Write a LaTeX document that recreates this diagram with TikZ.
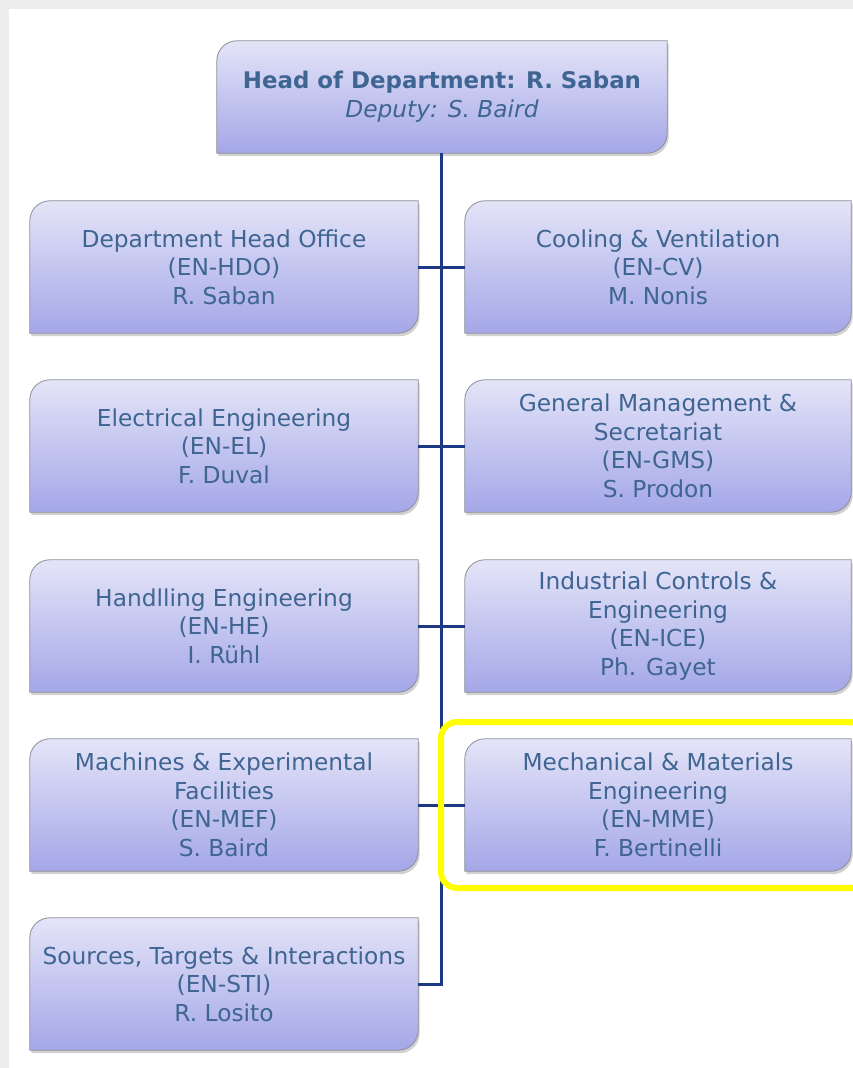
\documentclass[tikz,border=0pt]{standalone}
\usepackage{fontspec}
\setmainfont{DejaVu Sans}
\usetikzlibrary{backgrounds,calc}
\definecolor{boxtop}{HTML}{E4E4F8}
\definecolor{boxbot}{HTML}{A4A7E7}
\definecolor{boxline}{HTML}{8E8E9A}
\definecolor{txt}{HTML}{3F6592}
\definecolor{conn}{HTML}{1B3985}
\definecolor{hilite}{HTML}{FFFF00}
\newcommand\orgpath[3]{([xshift=#2,yshift=#3]#1.south west) -- ([xshift=#2,yshift=#3-20pt]#1.north west) arc[start angle=180,end angle=90,radius=20pt] -- ([xshift=#2,yshift=#3]#1.north east) -- ([xshift=#2,yshift=#3+20pt]#1.south east) arc[start angle=0,end angle=-90,radius=20pt] -- cycle}
\newcommand\orgbg[1]{%
  \begin{pgfonlayer}{background}
    \fill[black, opacity=0.18] \orgpath{#1}{1.5pt}{-3pt};
    \shade[top color=boxtop, bottom color=boxbot, draw=boxline, line width=0.8pt] \orgpath{#1}{0pt}{0pt};
  \end{pgfonlayer}}
\tikzset{
  orgbox/.style={rectangle, inner sep=0pt, align=center, text=txt,
    font=\fontsize{23.3}{28.6}\selectfont},
  conn/.style={draw=conn, line width=3pt},
}
\begin{document}
\begin{tikzpicture}[x=1pt,y=-1pt]
\useasboundingbox (0,0) rectangle (853,1068);
\begin{pgfonlayer}{background}
\fill[black!7] (0,0) rectangle (853,1068);
\fill[white] (9,9) rectangle (853,1068);
\end{pgfonlayer}
% nodes
\node[orgbox, minimum width=450pt, minimum height=112pt] (top) at (442,97)
  {{\fontsize{22.9}{28.6}\selectfont\textbf{Head of Department: R. Saban}}\\\textit{Deputy: S. Baird}};
\node[orgbox, minimum width=388pt, minimum height=132pt] (hdo) at (224,267)
  {Department Head Office\\(EN-HDO)\\R. Saban};
\node[orgbox, minimum width=388pt, minimum height=132pt] (el) at (224,446)
  {Electrical Engineering\\(EN-EL)\\F. Duval};
\node[orgbox, minimum width=388pt, minimum height=132pt] (he) at (224,626)
  {Handlling Engineering\\(EN-HE)\\I. Rühl};
\node[orgbox, minimum width=388pt, minimum height=132pt] (mef) at (224,805)
  {Machines \& Experimental\\Facilities\\(EN-MEF)\\S. Baird};
\node[orgbox, minimum width=388pt, minimum height=132pt] (sti) at (224,984)
  {Sources, Targets \& Interactions\\(EN-STI)\\R. Losito};
\node[orgbox, minimum width=386pt, minimum height=132pt] (cv) at (658,267)
  {Cooling \& Ventilation\\(EN-CV)\\M. Nonis};
\node[orgbox, minimum width=386pt, minimum height=132pt] (gms) at (658,446)
  {General Management \&\\Secretariat\\(EN-GMS)\\S. Prodon};
\node[orgbox, minimum width=386pt, minimum height=132pt] (ice) at (658,626)
  {Industrial Controls \&\\Engineering\\(EN-ICE)\\Ph. Gayet};
\node[orgbox, minimum width=386pt, minimum height=132pt] (mme) at (658,805)
  {Mechanical \& Materials\\Engineering\\(EN-MME)\\F. Bertinelli};
\orgbg{top}\orgbg{hdo}\orgbg{el}\orgbg{he}\orgbg{mef}\orgbg{sti}
\orgbg{cv}\orgbg{gms}\orgbg{ice}\orgbg{mme}
% connectors
\draw[conn] ([xshift=-1pt]top.south) -- ([xshift=-1pt]top.south |- sti.east) -- (sti.east);
\draw[conn] (hdo.east) -- (cv.west);
\draw[conn] (el.east) -- (gms.west);
\draw[conn] (he.east) -- (ice.west);
\draw[conn] (mef.east) -- (mme.west);
% highlight
\begin{scope}
\clip (0,0) rectangle (853,1068);
\draw[hilite, line width=6pt, rounded corners=16pt] (441,722) rectangle (866,888);
\end{scope}
\end{tikzpicture}
\end{document}
